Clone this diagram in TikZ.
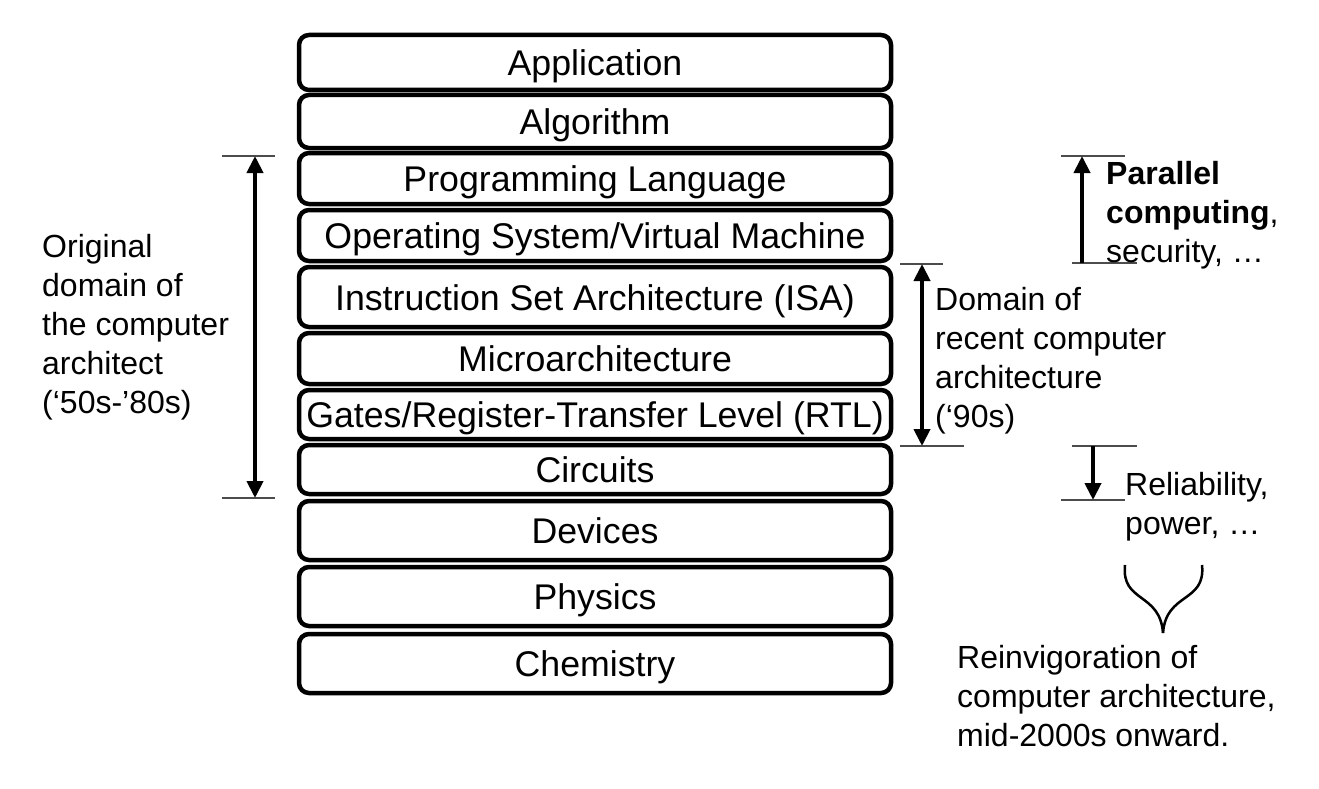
\documentclass[tikz,border=0pt]{standalone}
\usepackage{fontspec}
\setmainfont{Liberation Sans}
\usetikzlibrary{arrows.meta}
\begin{document}
\begin{tikzpicture}[x=1pt,y=-1pt,
  layer/.style={draw, line width=4.5pt, rounded corners=10pt, minimum width=592pt,
    inner sep=0pt, text height=26pt, text depth=0pt, font=\fontsize{35.7}{40}\selectfont},
  lbl/.style={anchor=north west, inner sep=0pt, align=left, font=\fontsize{32}{39}\selectfont},
  dimarrow/.style={line width=4pt},
  tip/.style={-{Triangle[length=17pt,width=16pt]}},
  twotip/.style={{Triangle[length=17pt,width=16pt]}-{Triangle[length=17pt,width=16pt]}},
  tickline/.style={line width=1.3pt, draw=black!70},
  bracestyle/.style={line width=2.5pt}]
\useasboundingbox (0,0) rectangle (1319,789);

% layers
\node[layer, minimum height=55pt] (app)  at (595,62.5)  {Application};
\node[layer, minimum height=53pt] (alg)  at (595,121.5) {Algorithm};
\node[layer, minimum height=51pt] (pl)   at (595,178.5) {Programming Language};
\node[layer, minimum height=51pt] (os)   at (595,235.5) {Operating System/Virtual Machine};
\node[layer, minimum height=60pt] (isa)  at (595,297)   {Instruction Set Architecture (ISA)};
\node[layer, minimum height=51pt] (uarch) at (595,358.5) {Microarchitecture};
\node[layer, minimum height=49pt] (rtl)  at (595,414.5) {Gates/Register-Transfer Level (RTL)};
\node[layer, minimum height=49pt] (circ) at (595,469.5) {Circuits};
\node[layer, minimum height=59pt] (dev)  at (595,530.5) {Devices};
\node[layer, minimum height=59pt] (phys) at (595,596.5) {Physics};
\node[layer, minimum height=59pt] (chem) at (595,663.5) {Chemistry};

% left dimension
\coordinate (l1a) at (222,156); \coordinate (l1b) at (275,156);
\coordinate (l2a) at (222,498); \coordinate (l2b) at (275,498);
\coordinate (la) at (255,156); \coordinate (lb) at (255,498);
\draw[tickline] (l1a) -- (l1b);
\draw[tickline] (l2a) -- (l2b);
\draw[dimarrow, twotip] (la) -- (lb);
\node[lbl] (orig) at (42,234) {Original\\domain of\\the computer\\architect\\(‘50s-’80s)};

% middle dimension
\coordinate (m1a) at (900,264); \coordinate (m1b) at (943,264);
\coordinate (m2a) at (900,446); \coordinate (m2b) at (964,446);
\coordinate (ma) at (922,264); \coordinate (mb) at (922,446);
\draw[tickline] (m1a) -- (m1b);
\draw[tickline] (m2a) -- (m2b);
\draw[dimarrow, twotip] (ma) -- (mb);
\node[lbl] (recent) at (935,287) {Domain of\\recent computer\\architecture\\(‘90s)};

% right top
\coordinate (r1a) at (1061,156); \coordinate (r1b) at (1125,156);
\coordinate (r2a) at (1072,263); \coordinate (r2b) at (1137,263);
\coordinate (ra) at (1082,263); \coordinate (rb) at (1082,156);
\draw[tickline] (r1a) -- (r1b);
\draw[tickline] (r2a) -- (r2b);
\draw[dimarrow, tip] (ra) -- (rb);
\node[lbl] (par) at (1106,161) {\textbf{Parallel}\\\textbf{computing}, \\security, …};

% right lower
\coordinate (s1a) at (1072,446); \coordinate (s1b) at (1137,446);
\coordinate (s2a) at (1061,500); \coordinate (s2b) at (1125,500);
\coordinate (sa) at (1093,446); \coordinate (sb) at (1093,500);
\draw[tickline] (s1a) -- (s1b);
\draw[tickline] (s2a) -- (s2b);
\draw[dimarrow, tip] (sa) -- (sb);
\node[lbl] (rel) at (1125,472) {Reliability,\\power, …};

% brace
\coordinate (bl) at (1125,565); \coordinate (br) at (1202,565); \coordinate (bt) at (1163,633);
\draw[bracestyle] (bl) .. controls (1121,603) and (1160,592) .. (bt);
\draw[bracestyle] (br) .. controls (1206,603) and (1166,592) .. (bt);

\node[lbl] (reinv) at (957,645) {Reinvigoration of\\computer architecture,\\mid-2000s onward.};
\end{tikzpicture}
\end{document}
